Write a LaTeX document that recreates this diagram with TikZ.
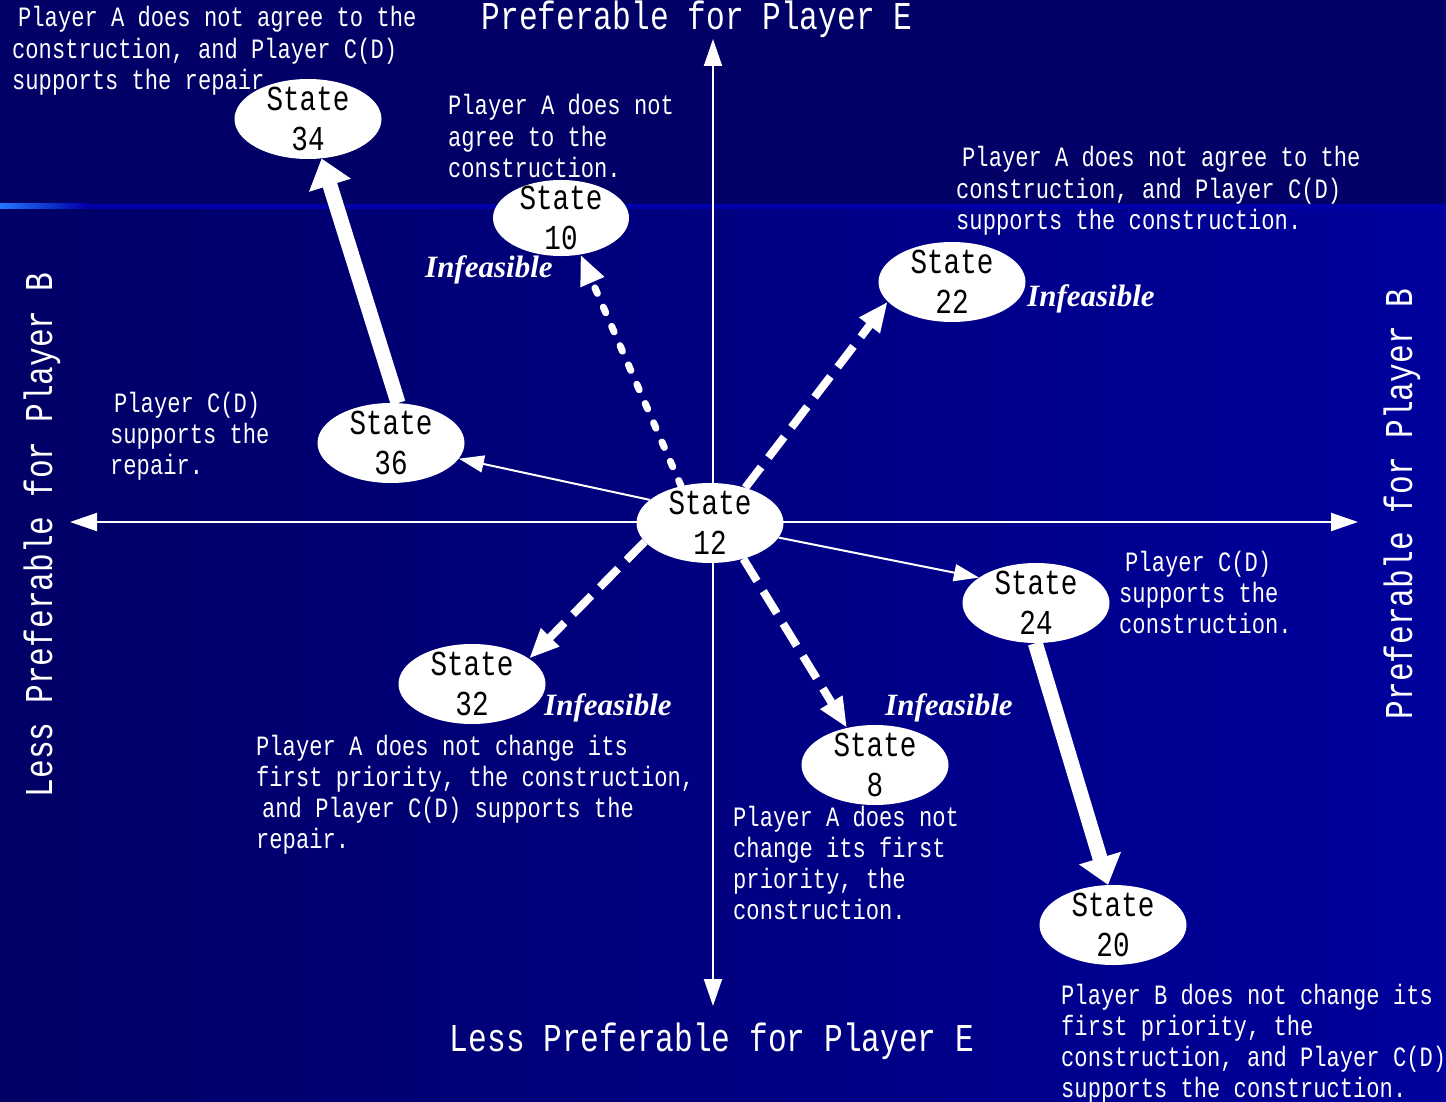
\documentclass[tikz,border=0pt]{standalone}
\usepackage{fontspec}
\setmainfont{Liberation Serif}
\newfontfamily\simfont{Liberation Mono}[FakeStretch=0.79]
\definecolor{NavyDark}{HTML}{000066}
\definecolor{NavyLight}{HTML}{00009C}
\definecolor{StripeBlue}{HTML}{0000A8}
\definecolor{SkyBlue}{HTML}{2277FF}
\usetikzlibrary{
  arrows.meta,
  shapes.geometric
}

\begin{document}
\begin{tikzpicture}[
  x=1pt, y=-1pt,
  state/.style={
    ellipse, fill=white, inner xsep=0pt, inner ysep=-4pt,
    minimum width=147pt, minimum height=80pt,
    font=\simfont\fontsize{35}{40}\selectfont,
    text=black, align=center
  },
  note/.style={
    anchor=base west, inner sep=0pt, text=white, align=left,
    font=\simfont\fontsize{28}{31.3}\selectfont
  },
  infeas/.style={
    anchor=base west, inner sep=0pt, text=white,
    font=\bfseries\itshape\fontsize{31}{36}\selectfont
  },
  axislabel/.style={
    anchor=base, inner sep=0pt, text=white,
    font=\simfont\fontsize{39.5}{44}\selectfont
  },
  axis/.style={
    white, line width=2pt,
    {Triangle[width=18pt,length=27pt]}-{Triangle[width=18pt,length=27pt]}
  },
  thinarr/.style={
    white, line width=2pt, -{Triangle[width=17pt,length=25pt]}
  },
  dasharr/.style={
    white, line width=8pt, dash pattern=on 26pt off 12pt,
    -{Triangle[width=24pt,length=30pt]}
  },
  dotarr/.style={
    white, line width=7pt, line cap=round, dash pattern=on 6pt off 15pt,
    -{Triangle[width=24pt,length=30pt]}
  },
  fatarr/.style={
    white, line width=15pt, -{Triangle[width=42pt,length=28pt]}
  }
]
  \useasboundingbox (0,0) rectangle (1446,1102);

  % background bands
  \fill[NavyDark] (0,0) rectangle (1446,208);
  \shade[left color=NavyDark, right color=NavyLight] (0,208) rectangle (1446,1102);
  \fill[StripeBlue] (0,204) rectangle (1446,209);
  \shade[left color=SkyBlue, right color=StripeBlue] (0,204) rectangle (86,209);

  % axes
  \coordinate (xl) at (70,522);
  \coordinate (xr) at (1358,522);
  \coordinate (yt) at (713,39);
  \coordinate (yb) at (713,1006);
  \draw[axis] (xl) -- (xr);
  \draw[axis] (yt) -- (yb);

  \node[axislabel] (lblEup) at (697,30) {Preferable for Player E};
  \node[axislabel] (lblEdown) at (712,1051) {Less Preferable for Player E};
  \node[axislabel, rotate=90] (lblBleft) at (52,535) {Less Preferable for Player B};
  \node[axislabel, rotate=90] (lblBright) at (1412,504) {Preferable for Player B};

  % descriptions (anchored on their last line)
  \node[note] (n34) at (12,89.6)
    {\hspace*{6pt}Player A does not agree to the\\construction, and Player C(D)\\supports the repair.};
  \node[note] (n10) at (448,177.6)
    {Player A does not\\agree to the\\construction.};
  \node[note] (n22) at (956,229.6)
    {\hspace*{6pt}Player A does not agree to the\\construction, and Player C(D)\\supports the construction.};
  \node[note] (n36) at (110,474.6)
    {\hspace*{4pt}Player C(D)\\supports the\\repair.};
  \node[note] (n24) at (1119,633.6)
    {\hspace*{6pt}Player C(D)\\supports the\\construction.};
  \node[note] (n32) at (256,848.9)
    {Player A does not change its\\first priority, the construction,\\\hspace*{6pt}and Player C(D) supports the\\repair.};
  \node[note] (n8) at (733,919.9)
    {Player A does not\\change its first\\priority, the\\construction.};
  \node[note] (n20) at (1061,1097.9)
    {Player B does not change its\\first priority, the\\construction, and Player C(D)\\supports the construction.};

  % states
  \node[state] (s12) at (710,523) {State\\12};
  \node[state] (s34) at (308,119) {State\\34};
  \node[state, minimum width=136pt, minimum height=76pt, inner ysep=-5pt] (s10) at (561,218) {State\\10};
  \node[state] (s22) at (952,282) {State\\22};
  \node[state] (s36) at (391,443) {State\\36};
  \node[state] (s24) at (1036,603) {State\\24};
  \node[state] (s32) at (472,684) {State\\32};
  \node[state] (s8) at (875,765) {State\\8};
  \node[state] (s20) at (1113,925) {State\\20};

  % moves
  \draw[fatarr] (s36.80) -- (s34.-71);
  \draw[dotarr] (s12.128) -- (s10.-62);
  \draw[dasharr] (s12.45) -- (s22.-163);
  \draw[thinarr] (s12.159) -- (s36.-13);
  \draw[thinarr] (s12.-12) -- (s24.156);
  \draw[dasharr] (s12.196) -- (s32.24);
  \draw[dasharr] (s12.-47) -- (s8.127);
  \draw[fatarr] (s24.-91) -- (s20.97);

  \node[infeas] (inf10) at (425,277) {Infeasible};
  \node[infeas] (inf22) at (1027,306) {Infeasible};
  \node[infeas] (inf32) at (544,715) {Infeasible};
  \node[infeas] (inf8) at (885,715) {Infeasible};
\end{tikzpicture}
\end{document}
